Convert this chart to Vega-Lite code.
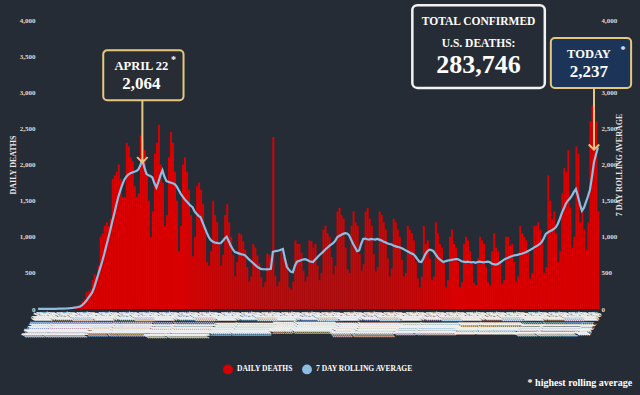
{
  "$schema": "https://vega.github.io/schema/vega-lite/v6.json",
  "autosize": {"type": "none"},
  "width": 562,
  "height": 289,
  "padding": {"left": 37, "top": 20, "right": 41, "bottom": 86},
  "background": "#262c36",
  "config": {
    "view": {"stroke": null},
    "font": "Liberation Serif",
    "text": {"font": "Liberation Serif", "fontWeight": "bold", "color": "#ffffff"},
    "legend": {"layout": {"bottom": {"anchor": "middle", "direction": "horizontal"}}}
  },
  "title": {"text": "* highest rolling average", "orient": "bottom", "anchor": "end", "frame": "bounds", "color": "#ffffff", "fontSize": 10, "font": "Liberation Serif", "fontWeight": "bold", "offset": 1},
  "datasets": {
    "daily": [
      {"date":"2020-03-01","deaths":1,"avg":1},{"date":"2020-03-02","deaths":1,"avg":1},{"date":"2020-03-03","deaths":1,"avg":1},{"date":"2020-03-04","deaths":2,"avg":1},{"date":"2020-03-05","deaths":2,"avg":2},{"date":"2020-03-06","deaths":2,"avg":2},{"date":"2020-03-07","deaths":3,"avg":2},
      {"date":"2020-03-08","deaths":2,"avg":2},{"date":"2020-03-09","deaths":3,"avg":3},{"date":"2020-03-10","deaths":4,"avg":3},{"date":"2020-03-11","deaths":6,"avg":4},{"date":"2020-03-12","deaths":7,"avg":4},{"date":"2020-03-13","deaths":6,"avg":5},{"date":"2020-03-14","deaths":9,"avg":6},
      {"date":"2020-03-15","deaths":10,"avg":7},{"date":"2020-03-16","deaths":12,"avg":9},{"date":"2020-03-17","deaths":18,"avg":11},{"date":"2020-03-18","deaths":23,"avg":14},{"date":"2020-03-19","deaths":31,"avg":18},{"date":"2020-03-20","deaths":48,"avg":22},{"date":"2020-03-21","deaths":56,"avg":28},
      {"date":"2020-03-22","deaths":60,"avg":35},{"date":"2020-03-23","deaths":110,"avg":55},{"date":"2020-03-24","deaths":140,"avg":80},{"date":"2020-03-25","deaths":230,"avg":110},{"date":"2020-03-26","deaths":245,"avg":150},{"date":"2020-03-27","deaths":270,"avg":190},{"date":"2020-03-28","deaths":400,"avg":230},
      {"date":"2020-03-29","deaths":480,"avg":300},{"date":"2020-03-30","deaths":450,"avg":390},{"date":"2020-03-31","deaths":600,"avg":480},{"date":"2020-04-01","deaths":1000,"avg":570},{"date":"2020-04-02","deaths":1050,"avg":660},{"date":"2020-04-03","deaths":1150,"avg":760},{"date":"2020-04-04","deaths":1200,"avg":870},
      {"date":"2020-04-05","deaths":1150,"avg":980},{"date":"2020-04-06","deaths":1250,"avg":1090},{"date":"2020-04-07","deaths":1800,"avg":1210},{"date":"2020-04-08","deaths":1850,"avg":1320},{"date":"2020-04-09","deaths":1900,"avg":1440},{"date":"2020-04-10","deaths":2000,"avg":1550},{"date":"2020-04-11","deaths":1800,"avg":1640},
      {"date":"2020-04-12","deaths":1550,"avg":1720},{"date":"2020-04-13","deaths":1550,"avg":1790},{"date":"2020-04-14","deaths":2300,"avg":1830},{"date":"2020-04-15","deaths":2250,"avg":1860},{"date":"2020-04-16","deaths":2100,"avg":1880},{"date":"2020-04-17","deaths":2050,"avg":1890},{"date":"2020-04-18","deaths":1700,"avg":1900},
      {"date":"2020-04-19","deaths":1550,"avg":1910},{"date":"2020-04-20","deaths":1600,"avg":1930},{"date":"2020-04-21","deaths":2400,"avg":1990},{"date":"2020-04-22","deaths":2350,"avg":2064},{"date":"2020-04-23","deaths":2200,"avg":1960},{"date":"2020-04-24","deaths":1900,"avg":1870},{"date":"2020-04-25","deaths":1500,"avg":1850},
      {"date":"2020-04-26","deaths":1000,"avg":1840},{"date":"2020-04-27","deaths":1350,"avg":1820},{"date":"2020-04-28","deaths":2150,"avg":1740},{"date":"2020-04-29","deaths":2300,"avg":1680},{"date":"2020-04-30","deaths":2550,"avg":1760},{"date":"2020-05-01","deaths":2000,"avg":1850},{"date":"2020-05-02","deaths":1750,"avg":1920},
      {"date":"2020-05-03","deaths":1150,"avg":1830},{"date":"2020-05-04","deaths":1300,"avg":1770},{"date":"2020-05-05","deaths":2100,"avg":1760},{"date":"2020-05-06","deaths":2450,"avg":1750},{"date":"2020-05-07","deaths":2300,"avg":1740},{"date":"2020-05-08","deaths":1900,"avg":1730},{"date":"2020-05-09","deaths":1500,"avg":1700},
      {"date":"2020-05-10","deaths":800,"avg":1650},{"date":"2020-05-11","deaths":1150,"avg":1600},{"date":"2020-05-12","deaths":2000,"avg":1560},{"date":"2020-05-13","deaths":2100,"avg":1520},{"date":"2020-05-14","deaths":1900,"avg":1490},{"date":"2020-05-15","deaths":1650,"avg":1460},{"date":"2020-05-16","deaths":1300,"avg":1430},
      {"date":"2020-05-17","deaths":730,"avg":1410},{"date":"2020-05-18","deaths":1000,"avg":1350},{"date":"2020-05-19","deaths":1700,"avg":1320},{"date":"2020-05-20","deaths":1750,"avg":1290},{"date":"2020-05-21","deaths":1650,"avg":1270},{"date":"2020-05-22","deaths":1450,"avg":1200},{"date":"2020-05-23","deaths":1100,"avg":1130},
      {"date":"2020-05-24","deaths":650,"avg":1060},{"date":"2020-05-25","deaths":600,"avg":1000},{"date":"2020-05-26","deaths":800,"avg":955},{"date":"2020-05-27","deaths":1500,"avg":935},{"date":"2020-05-28","deaths":1300,"avg":920},{"date":"2020-05-29","deaths":1200,"avg":915},{"date":"2020-05-30","deaths":900,"avg":910},
      {"date":"2020-05-31","deaths":600,"avg":910},{"date":"2020-06-01","deaths":750,"avg":940},{"date":"2020-06-02","deaths":1300,"avg":975},{"date":"2020-06-03","deaths":1450,"avg":1000},{"date":"2020-06-04","deaths":1200,"avg":940},{"date":"2020-06-05","deaths":1000,"avg":880},{"date":"2020-06-06","deaths":750,"avg":830},
      {"date":"2020-06-07","deaths":450,"avg":790},{"date":"2020-06-08","deaths":650,"avg":780},{"date":"2020-06-09","deaths":1050,"avg":770},{"date":"2020-06-10","deaths":1030,"avg":760},{"date":"2020-06-11","deaths":940,"avg":755},{"date":"2020-06-12","deaths":820,"avg":745},{"date":"2020-06-13","deaths":580,"avg":720},
      {"date":"2020-06-14","deaths":380,"avg":690},{"date":"2020-06-15","deaths":450,"avg":665},{"date":"2020-06-16","deaths":900,"avg":640},{"date":"2020-06-17","deaths":850,"avg":615},{"date":"2020-06-18","deaths":740,"avg":590},{"date":"2020-06-19","deaths":630,"avg":570},{"date":"2020-06-20","deaths":440,"avg":555},
      {"date":"2020-06-21","deaths":300,"avg":550},{"date":"2020-06-22","deaths":370,"avg":550},{"date":"2020-06-23","deaths":770,"avg":548},{"date":"2020-06-24","deaths":750,"avg":550},{"date":"2020-06-25","deaths":700,"avg":555},{"date":"2020-06-26","deaths":2380,"avg":790},{"date":"2020-06-27","deaths":460,"avg":800},
      {"date":"2020-06-28","deaths":310,"avg":805},{"date":"2020-06-29","deaths":380,"avg":810},{"date":"2020-06-30","deaths":800,"avg":820},{"date":"2020-07-01","deaths":720,"avg":830},{"date":"2020-07-02","deaths":680,"avg":700},{"date":"2020-07-03","deaths":630,"avg":580},{"date":"2020-07-04","deaths":300,"avg":545},
      {"date":"2020-07-05","deaths":270,"avg":515},{"date":"2020-07-06","deaths":380,"avg":510},{"date":"2020-07-07","deaths":950,"avg":600},{"date":"2020-07-08","deaths":900,"avg":655},{"date":"2020-07-09","deaths":900,"avg":665},{"date":"2020-07-10","deaths":780,"avg":675},{"date":"2020-07-11","deaths":530,"avg":685},
      {"date":"2020-07-12","deaths":380,"avg":690},{"date":"2020-07-13","deaths":450,"avg":680},{"date":"2020-07-14","deaths":950,"avg":665},{"date":"2020-07-15","deaths":940,"avg":655},{"date":"2020-07-16","deaths":850,"avg":650},{"date":"2020-07-17","deaths":900,"avg":680},{"date":"2020-07-18","deaths":600,"avg":710},
      {"date":"2020-07-19","deaths":400,"avg":740},{"date":"2020-07-20","deaths":500,"avg":765},{"date":"2020-07-21","deaths":1100,"avg":790},{"date":"2020-07-22","deaths":1150,"avg":820},{"date":"2020-07-23","deaths":1050,"avg":845},{"date":"2020-07-24","deaths":1000,"avg":870},{"date":"2020-07-25","deaths":720,"avg":890},
      {"date":"2020-07-26","deaths":480,"avg":910},{"date":"2020-07-27","deaths":600,"avg":940},{"date":"2020-07-28","deaths":1350,"avg":990},{"date":"2020-07-29","deaths":1400,"avg":1010},{"date":"2020-07-30","deaths":1300,"avg":1025},{"date":"2020-07-31","deaths":1250,"avg":1040},{"date":"2020-08-01","deaths":850,"avg":1050},
      {"date":"2020-08-02","deaths":550,"avg":1045},{"date":"2020-08-03","deaths":500,"avg":1020},{"date":"2020-08-04","deaths":1150,"avg":960},{"date":"2020-08-05","deaths":1350,"avg":900},{"date":"2020-08-06","deaths":1200,"avg":850},{"date":"2020-08-07","deaths":1150,"avg":800},{"date":"2020-08-08","deaths":760,"avg":810},
      {"date":"2020-08-09","deaths":530,"avg":900},{"date":"2020-08-10","deaths":620,"avg":970},{"date":"2020-08-11","deaths":1350,"avg":975},{"date":"2020-08-12","deaths":1400,"avg":965},{"date":"2020-08-13","deaths":1250,"avg":960},{"date":"2020-08-14","deaths":1150,"avg":970},{"date":"2020-08-15","deaths":760,"avg":965},
      {"date":"2020-08-16","deaths":520,"avg":960},{"date":"2020-08-17","deaths":580,"avg":970},{"date":"2020-08-18","deaths":1350,"avg":960},{"date":"2020-08-19","deaths":1300,"avg":950},{"date":"2020-08-20","deaths":1200,"avg":935},{"date":"2020-08-21","deaths":1100,"avg":925},{"date":"2020-08-22","deaths":700,"avg":910},
      {"date":"2020-08-23","deaths":450,"avg":900},{"date":"2020-08-24","deaths":560,"avg":895},{"date":"2020-08-25","deaths":1250,"avg":880},{"date":"2020-08-26","deaths":1200,"avg":870},{"date":"2020-08-27","deaths":1100,"avg":860},{"date":"2020-08-28","deaths":1000,"avg":855},{"date":"2020-08-29","deaths":680,"avg":845},
      {"date":"2020-08-30","deaths":450,"avg":830},{"date":"2020-08-31","deaths":500,"avg":815},{"date":"2020-09-01","deaths":1150,"avg":800},{"date":"2020-09-02","deaths":1100,"avg":785},{"date":"2020-09-03","deaths":1050,"avg":770},{"date":"2020-09-04","deaths":950,"avg":760},{"date":"2020-09-05","deaths":650,"avg":730},
      {"date":"2020-09-06","deaths":420,"avg":690},{"date":"2020-09-07","deaths":300,"avg":655},{"date":"2020-09-08","deaths":450,"avg":650},{"date":"2020-09-09","deaths":1150,"avg":700},{"date":"2020-09-10","deaths":900,"avg":760},{"date":"2020-09-11","deaths":950,"avg":800},{"date":"2020-09-12","deaths":700,"avg":820},
      {"date":"2020-09-13","deaths":400,"avg":815},{"date":"2020-09-14","deaths":450,"avg":800},{"date":"2020-09-15","deaths":1200,"avg":760},{"date":"2020-09-16","deaths":1050,"avg":720},{"date":"2020-09-17","deaths":900,"avg":690},{"date":"2020-09-18","deaths":850,"avg":670},{"date":"2020-09-19","deaths":650,"avg":650},
      {"date":"2020-09-20","deaths":300,"avg":660},{"date":"2020-09-21","deaths":400,"avg":670},{"date":"2020-09-22","deaths":1000,"avg":675},{"date":"2020-09-23","deaths":1100,"avg":680},{"date":"2020-09-24","deaths":900,"avg":685},{"date":"2020-09-25","deaths":850,"avg":690},{"date":"2020-09-26","deaths":650,"avg":690},
      {"date":"2020-09-27","deaths":300,"avg":680},{"date":"2020-09-28","deaths":370,"avg":660},{"date":"2020-09-29","deaths":900,"avg":655},{"date":"2020-09-30","deaths":1000,"avg":650},{"date":"2020-10-01","deaths":950,"avg":655},{"date":"2020-10-02","deaths":800,"avg":650},{"date":"2020-10-03","deaths":620,"avg":645},
      {"date":"2020-10-04","deaths":360,"avg":650},{"date":"2020-10-05","deaths":330,"avg":640},{"date":"2020-10-06","deaths":700,"avg":650},{"date":"2020-10-07","deaths":1000,"avg":655},{"date":"2020-10-08","deaths":950,"avg":650},{"date":"2020-10-09","deaths":900,"avg":645},{"date":"2020-10-10","deaths":580,"avg":650},
      {"date":"2020-10-11","deaths":370,"avg":655},{"date":"2020-10-12","deaths":330,"avg":650},{"date":"2020-10-13","deaths":800,"avg":630},{"date":"2020-10-14","deaths":1050,"avg":620},{"date":"2020-10-15","deaths":850,"avg":615},{"date":"2020-10-16","deaths":800,"avg":620},{"date":"2020-10-17","deaths":650,"avg":640},
      {"date":"2020-10-18","deaths":350,"avg":660},{"date":"2020-10-19","deaths":400,"avg":680},{"date":"2020-10-20","deaths":1000,"avg":695},{"date":"2020-10-21","deaths":1000,"avg":705},{"date":"2020-10-22","deaths":880,"avg":720},{"date":"2020-10-23","deaths":900,"avg":730},{"date":"2020-10-24","deaths":650,"avg":740},
      {"date":"2020-10-25","deaths":380,"avg":745},{"date":"2020-10-26","deaths":450,"avg":750},{"date":"2020-10-27","deaths":1150,"avg":760},{"date":"2020-10-28","deaths":1050,"avg":765},{"date":"2020-10-29","deaths":1000,"avg":775},{"date":"2020-10-30","deaths":950,"avg":785},{"date":"2020-10-31","deaths":780,"avg":800},
      {"date":"2020-11-01","deaths":420,"avg":815},{"date":"2020-11-02","deaths":500,"avg":830},{"date":"2020-11-03","deaths":1150,"avg":850},{"date":"2020-11-04","deaths":1150,"avg":865},{"date":"2020-11-05","deaths":1200,"avg":880},{"date":"2020-11-06","deaths":1100,"avg":900},{"date":"2020-11-07","deaths":950,"avg":930},
      {"date":"2020-11-08","deaths":500,"avg":980},{"date":"2020-11-09","deaths":580,"avg":1040},{"date":"2020-11-10","deaths":1850,"avg":1060},{"date":"2020-11-11","deaths":1500,"avg":1075},{"date":"2020-11-12","deaths":1250,"avg":1090},{"date":"2020-11-13","deaths":1350,"avg":1110},{"date":"2020-11-14","deaths":1050,"avg":1130},
      {"date":"2020-11-15","deaths":650,"avg":1180},{"date":"2020-11-16","deaths":800,"avg":1250},{"date":"2020-11-17","deaths":1600,"avg":1330},{"date":"2020-11-18","deaths":1950,"avg":1390},{"date":"2020-11-19","deaths":1900,"avg":1460},{"date":"2020-11-20","deaths":2200,"avg":1500},{"date":"2020-11-21","deaths":1400,"avg":1530},
      {"date":"2020-11-22","deaths":850,"avg":1570},{"date":"2020-11-23","deaths":1000,"avg":1620},{"date":"2020-11-24","deaths":2250,"avg":1660},{"date":"2020-11-25","deaths":2150,"avg":1560},{"date":"2020-11-26","deaths":1200,"avg":1450},{"date":"2020-11-27","deaths":1400,"avg":1360},{"date":"2020-11-28","deaths":1100,"avg":1400},
      {"date":"2020-11-29","deaths":820,"avg":1480},{"date":"2020-11-30","deaths":1200,"avg":1560},{"date":"2020-12-01","deaths":2600,"avg":1650},{"date":"2020-12-02","deaths":2820,"avg":1830},{"date":"2020-12-03","deaths":2750,"avg":2030},{"date":"2020-12-04","deaths":2600,"avg":2140},{"date":"2020-12-05","deaths":1350,"avg":2237}
    ]
  },
  "layer": [
    {
      "data": {"name": "daily"},
      "mark": {"type": "bar", "color": "#d80000", "binSpacing": 0},
      "encoding": {
        "x": {
          "field": "date", "type": "temporal", "timeUnit": "utcyearmonthdate",
          "scale": {"type": "utc", "domain": [{"year": 2020, "month": 3, "date": 1, "utc": true}, {"year": 2020, "month": 12, "date": 6, "utc": true}]},
          "axis": {"title": null, "format": "%b %d", "tickCount": {"interval": "day", "step": 1}, "labelAngle": -60, "labelFontSize": 9, "labelFontWeight": "bold", "labelColor": "#f0f0f0", "labelOverlap": false, "labelBound": false, "labelFlush": false, "labelPadding": 3, "ticks": false, "domain": false, "grid": false, "labelFont": "Liberation Serif"}
        },
        "y": {
          "field": "deaths", "type": "quantitative",
          "scale": {"domain": [0, 4000], "nice": false},
          "axis": {"orient": "left", "title": "DAILY DEATHS", "values": [0, 500, 1000, 1500, 2000, 2500, 3000, 3500, 4000], "format": ",.0f", "domain": false, "ticks": false, "grid": false, "labelColor": "#dcdcdc", "labelFontSize": 7, "labelFontWeight": "bold", "labelPadding": 2, "titleColor": "#e8e8e8", "titleFontSize": 8, "titleFontWeight": "bold", "titlePadding": 2}
        },
        "color": {
          "datum": "DAILY DEATHS",
          "scale": {"domain": ["DAILY DEATHS", "7 DAY ROLLING AVERAGE"], "range": ["#d80000", "#8cbde3"]},
          "legend": {"title": null, "orient": "bottom", "direction": "horizontal", "symbolType": "circle", "symbolSize": 70, "labelColor": "#ffffff", "labelFontSize": 7.5, "labelFontWeight": "bold", "labelFont": "Liberation Serif", "columnPadding": 6, "offset": 24}
        }
      }
    },
    {
      "data": {"name": "daily"},
      "mark": {"type": "line", "strokeWidth": 2.2, "interpolate": "linear"},
      "encoding": {
        "x": {"field": "date", "type": "temporal", "timeUnit": "utcyearmonthdate", "bandPosition": 0.5},
        "y": {
          "field": "avg", "type": "quantitative",
          "axis": {"orient": "right", "title": "7 DAY ROLLING AVERAGE", "titleAngle": 270, "values": [0, 500, 1000, 1500, 2000, 2500, 3000, 4000], "format": ",.0f", "domain": false, "ticks": false, "grid": false, "labelColor": "#dcdcdc", "labelFontSize": 7, "labelFontWeight": "bold", "labelPadding": 2, "titleColor": "#e8e8e8", "titleFontSize": 8, "titleFontWeight": "bold", "titlePadding": 7}
        },
        "color": {"datum": "7 DAY ROLLING AVERAGE"}
      }
    },
    {
      "data": {"values": [{"start": "2020-04-03", "end": "2020-05-13", "top": 3580, "bottom": 2890}]},
      "mark": {"type": "rect", "fill": "#272c35", "stroke": "#e5c77f", "strokeWidth": 2, "cornerRadius": 4},
      "encoding": {
        "x": {"field": "start", "type": "temporal"},
        "x2": {"field": "end"},
        "y": {"field": "top", "type": "quantitative", "axis": null},
        "y2": {"field": "bottom"}
      }
    },
    {
      "data": {"values": [{"start": "2020-09-04", "end": "2020-11-09", "top": 4205, "bottom": 3060}]},
      "mark": {"type": "rect", "fill": "#262c36", "stroke": "#f2f2f2", "strokeWidth": 2.5, "cornerRadius": 5},
      "encoding": {
        "x": {"field": "start", "type": "temporal"},
        "x2": {"field": "end"},
        "y": {"field": "top", "type": "quantitative", "axis": null},
        "y2": {"field": "bottom"}
      }
    },
    {
      "data": {"values": [{"start": "2020-11-12", "end": "2020-12-22", "top": 3750, "bottom": 3060}]},
      "mark": {"type": "rect", "fill": "#1c3458", "stroke": "#e5c77f", "strokeWidth": 2, "cornerRadius": 4},
      "encoding": {
        "x": {"field": "start", "type": "temporal"},
        "x2": {"field": "end"},
        "y": {"field": "top", "type": "quantitative", "axis": null},
        "y2": {"field": "bottom"}
      }
    },
    {
      "data": {"values": [
        {"date": "2020-04-22", "top": 2890, "tip": 2040},
        {"date": "2020-12-03", "top": 3060, "tip": 2215}
      ]},
      "mark": {"type": "rule", "stroke": "#e5c77f", "strokeWidth": 2},
      "encoding": {
        "x": {"field": "date", "type": "temporal", "timeUnit": "utcyearmonthdate", "bandPosition": 0.5},
        "y": {"field": "top", "type": "quantitative", "axis": null},
        "y2": {"field": "tip"}
      }
    },
    {
      "data": {"values": [
        {"date": "2020-04-22", "tip": 2030},
        {"date": "2020-12-03", "tip": 2205}
      ]},
      "mark": {"type": "point", "shape": "M-1,-1L0,0L1,-1", "filled": false, "stroke": "#e5c77f", "strokeWidth": 2, "size": 110, "opacity": 1},
      "encoding": {
        "x": {"field": "date", "type": "temporal", "timeUnit": "utcyearmonthdate", "bandPosition": 0.5},
        "y": {"field": "tip", "type": "quantitative", "axis": null}
      }
    },
    {
      "data": {"values": [
        {"date": "2020-04-22", "value": 3308, "label": "APRIL 22"},
        {"date": "2020-12-01", "value": 3474, "label": "TODAY"}
      ]},
      "mark": {"type": "text", "fontSize": 12.5, "align": "center", "baseline": "alphabetic"},
      "encoding": {
        "x": {"field": "date", "type": "temporal", "timeUnit": "utcyearmonthdate"},
        "y": {"field": "value", "type": "quantitative", "axis": null},
        "text": {"field": "label"}
      }
    },
    {
      "data": {"values": [
        {"date": "2020-10-07", "value": 3931, "label": "TOTAL CONFIRMED"},
        {"date": "2020-10-07", "value": 3626, "label": "U.S. DEATHS:"}
      ]},
      "mark": {"type": "text", "fontSize": 11.5, "align": "center", "baseline": "alphabetic"},
      "encoding": {
        "x": {"field": "date", "type": "temporal", "timeUnit": "utcyearmonthdate"},
        "y": {"field": "value", "type": "quantitative", "axis": null},
        "text": {"field": "label"}
      }
    },
    {
      "data": {"values": [
        {"date": "2020-04-22", "value": 3045, "label": "2,064"},
        {"date": "2020-12-01", "value": 3211, "label": "2,237"}
      ]},
      "mark": {"type": "text", "fontSize": 17, "align": "center", "baseline": "alphabetic"},
      "encoding": {
        "x": {"field": "date", "type": "temporal", "timeUnit": "utcyearmonthdate"},
        "y": {"field": "value", "type": "quantitative", "axis": null},
        "text": {"field": "label"}
      }
    },
    {
      "data": {"values": [{"date": "2020-10-07", "value": 3266, "label": "283,746"}]},
      "mark": {"type": "text", "fontSize": 26, "align": "center", "baseline": "alphabetic"},
      "encoding": {
        "x": {"field": "date", "type": "temporal", "timeUnit": "utcyearmonthdate"},
        "y": {"field": "value", "type": "quantitative", "axis": null},
        "text": {"field": "label"}
      }
    },
    {
      "data": {"values": [
        {"date": "2020-05-08", "value": 3400, "label": "*"},
        {"date": "2020-12-18", "value": 3540, "label": "*"}
      ]},
      "mark": {"type": "text", "fontSize": 10, "align": "center", "baseline": "alphabetic"},
      "encoding": {
        "x": {"field": "date", "type": "temporal", "timeUnit": "utcyearmonthdate"},
        "y": {"field": "value", "type": "quantitative", "axis": null},
        "text": {"field": "label"}
      }
    }
  ],
  "resolve": {"axis": {"y": "independent"}}
}
